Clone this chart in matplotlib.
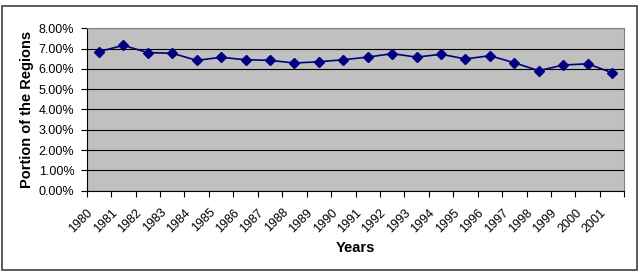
import matplotlib
matplotlib.use("Agg")
import matplotlib.pyplot as plt
import matplotlib.transforms as mtransforms
from matplotlib.patches import Rectangle
from matplotlib.ticker import FuncFormatter, FixedLocator
import numpy as np

years = [str(y) for y in range(1980, 2002)]
portion = [6.85, 7.16, 6.80, 6.77, 6.42, 6.57, 6.45, 6.42, 6.29, 6.35, 6.45,
           6.58, 6.75, 6.58, 6.72, 6.49, 6.65, 6.30, 5.91, 6.19, 6.25, 5.81]

plt.rcParams['font.family'] = ['Liberation Sans', 'DejaVu Sans']

fig = plt.figure(figsize=(6.39, 2.73), dpi=100)
fig.patches.append(Rectangle((0.0027, 0.011), 0.9937, 0.968, transform=fig.transFigure,
                             fill=False, edgecolor='#404040', linewidth=1.2))

ax = fig.add_axes([0.1357, 0.3015, 0.8413, 0.5949])
ax.set_facecolor('#c0c0c0')
x = np.arange(len(years))
ax.plot(x, portion, color='#000080', marker='D', markersize=5, linewidth=1.2)

ax.set_xlim(-0.5, len(years) - 0.5)
ax.set_ylim(0, 8)
ax.set_yticks(np.arange(0, 9, 1))
ax.yaxis.set_major_formatter(FuncFormatter(lambda v, p: '%.2f%%' % v))
ax.grid(axis='y', color='#000000', linewidth=0.8)
ax.set_axisbelow(True)

# tick marks between categories, labels rotated under each category
ax.xaxis.set_major_locator(FixedLocator(np.arange(-0.5, len(years), 1)))
ax.set_xticklabels([''] * (len(years) + 1))
ax.tick_params(axis='x', direction='out', length=4, color='#000000')
ax.tick_params(axis='y', direction='out', length=4, labelsize=9, pad=5)

trans = mtransforms.blended_transform_factory(ax.transData, ax.transAxes)
off = mtransforms.ScaledTranslation(-8 / 100, -20 / 100, fig.dpi_scale_trans)
for xi, lab in zip(x, years):
    ax.text(xi, 0, lab, transform=trans + off, rotation=45, rotation_mode='anchor',
            ha='right', va='center', fontsize=9)

for side in ['top', 'right']:
    ax.spines[side].set_color('#808080')
ax.spines['left'].set_color('#000000')
ax.spines['bottom'].set_color('#000000')

ax.set_xlabel('Years', fontsize=10.5, fontweight='bold')
ax.xaxis.set_label_coords(0.5, -0.352)
ax.xaxis.label.set_va('center')
ax.set_ylabel('Portion of the Regions', fontsize=10.5, fontweight='bold')
ax.yaxis.set_label_coords(-0.111, 0.5)
ax.yaxis.label.set_va('center')

fig.savefig('out.png', dpi=100)
